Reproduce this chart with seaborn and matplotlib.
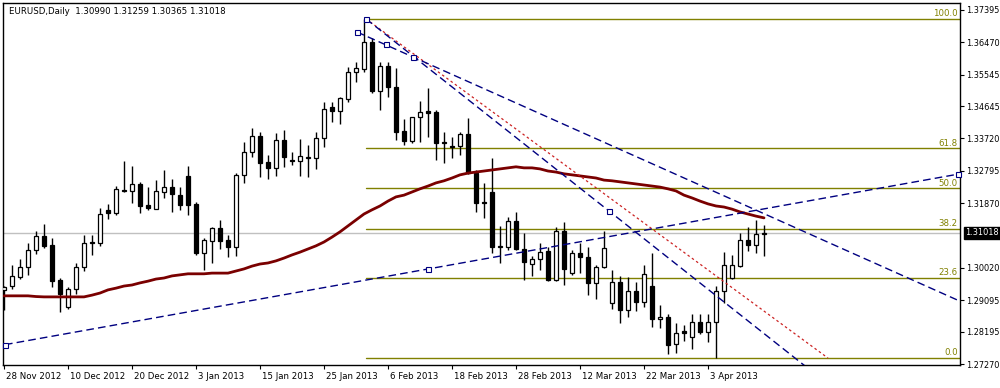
import matplotlib
matplotlib.use("Agg")
import matplotlib.pyplot as plt
import matplotlib.transforms as mtrans
import numpy as np
import pandas as pd
import seaborn as sns

# ---- data (EURUSD daily, bar index 0 = 28 Nov 2012) ----
opens = [1.2939, 1.2950, 1.2976, 1.3004, 1.3053, 1.3093, 1.3067, 1.2967, 1.2890, 1.2942,
         1.3004, 1.3076, 1.3073, 1.3168, 1.3159, 1.3225, 1.3222, 1.3242, 1.3182, 1.3170,
         1.3219, 1.3233, 1.3210, 1.3265, 1.3185, 1.3045, 1.3079, 1.3116, 1.3082, 1.3062,
         1.3268, 1.3333, 1.3379, 1.3305, 1.3288, 1.3368, 1.3311, 1.3308, 1.3316, 1.3316,
         1.3373, 1.3462, 1.3451, 1.3485, 1.3562, 1.3571, 1.3648, 1.3508, 1.3579, 1.3519,
         1.3393, 1.3365, 1.3434, 1.3451, 1.3448, 1.3362, 1.3351, 1.3351, 1.3385, 1.3273,
         1.3190, 1.3219, 1.3062, 1.3062, 1.3136, 1.3056, 1.3013, 1.3027, 1.3050, 1.2967,
         1.3107, 1.2987, 1.3045, 1.3033, 1.2959, 1.3005, 1.2902, 1.2962, 1.2882, 1.2935,
         1.2904, 1.2950, 1.2856, 1.2862, 1.2784, 1.2821, 1.2804, 1.2847, 1.2819, 1.2847,
         1.2936, 1.2973, 1.3007, 1.3082, 1.3067, 1.30990]
highs = [1.2950, 1.3010, 1.3027, 1.3073, 1.3107, 1.3128, 1.3087, 1.2973, 1.2947, 1.3016,
         1.3096, 1.3096, 1.3173, 1.3185, 1.3236, 1.3308, 1.3293, 1.3248, 1.3233, 1.3253,
         1.3282, 1.3256, 1.3233, 1.3293, 1.3190, 1.3087, 1.3119, 1.3139, 1.3096, 1.3273,
         1.3362, 1.3402, 1.3391, 1.3325, 1.3388, 1.3396, 1.3333, 1.3371, 1.3353, 1.3391,
         1.3476, 1.3476, 1.3491, 1.3577, 1.3591, 1.3714, 1.3659, 1.3591, 1.3591, 1.3574,
         1.3428, 1.3428, 1.3479, 1.3516, 1.3454, 1.3391, 1.3376, 1.3391, 1.3431, 1.3282,
         1.3245, 1.3316, 1.3122, 1.3148, 1.3162, 1.3102, 1.3036, 1.3073, 1.3062, 1.3119,
         1.3133, 1.3053, 1.3073, 1.3062, 1.3010, 1.3107, 1.2996, 1.2979, 1.2976, 1.2962,
         1.3010, 1.3045, 1.2896, 1.2870, 1.2844, 1.2839, 1.2870, 1.2870, 1.2870, 1.2950,
         1.3047, 1.3039, 1.3102, 1.3119, 1.3139, 1.31259]
lows = [1.2882, 1.2942, 1.2970, 1.2982, 1.3042, 1.3059, 1.2947, 1.2876, 1.2884, 1.2927,
        1.2993, 1.3039, 1.3065, 1.3142, 1.3153, 1.3219, 1.3188, 1.3159, 1.3168, 1.3170,
        1.3202, 1.3162, 1.3168, 1.3153, 1.3039, 1.2996, 1.3016, 1.3056, 1.3033, 1.3036,
        1.3245, 1.3319, 1.3262, 1.3256, 1.3265, 1.3291, 1.3296, 1.3265, 1.3262, 1.3285,
        1.3348, 1.3419, 1.3414, 1.3476, 1.3534, 1.3562, 1.3502, 1.3454, 1.3491, 1.3368,
        1.3353, 1.3359, 1.3362, 1.3376, 1.3311, 1.3302, 1.3316, 1.3325, 1.3271, 1.3162,
        1.3145, 1.3045, 1.3016, 1.3053, 1.3053, 1.2967, 1.2979, 1.2996, 1.2964, 1.2964,
        1.2953, 1.2982, 1.2987, 1.2924, 1.2913, 1.3002, 1.2884, 1.2844, 1.2862, 1.2879,
        1.2890, 1.2833, 1.2830, 1.2756, 1.2759, 1.2793, 1.2770, 1.2813, 1.2790, 1.2744,
        1.2902, 1.2970, 1.3005, 1.3050, 1.3045, 1.30365]
closes = [1.2947, 1.2979, 1.3005, 1.3053, 1.3093, 1.3065, 1.2964, 1.2927, 1.2942, 1.3004,
          1.3073, 1.3073, 1.3156, 1.3159, 1.3228, 1.3222, 1.3242, 1.3179, 1.3173, 1.3222,
          1.3233, 1.3213, 1.3182, 1.3182, 1.3045, 1.3082, 1.3116, 1.3079, 1.3062, 1.3268,
          1.3333, 1.3379, 1.3302, 1.3288, 1.3368, 1.3319, 1.3308, 1.3322, 1.3319, 1.3373,
          1.3456, 1.3451, 1.3488, 1.3562, 1.3574, 1.3648, 1.3508, 1.3579, 1.3519, 1.3391,
          1.3365, 1.3434, 1.3448, 1.3445, 1.3359, 1.3359, 1.3348, 1.3385, 1.3273, 1.3188,
          1.3188, 1.3062, 1.3065, 1.3136, 1.3056, 1.3019, 1.3027, 1.3047, 1.2967, 1.3107,
          1.2999, 1.3045, 1.3033, 1.2959, 1.3005, 1.3059, 1.2962, 1.2882, 1.2935, 1.2904,
          1.2985, 1.2856, 1.2862, 1.2781, 1.2816, 1.2816, 1.2847, 1.2819, 1.2847, 1.2936,
          1.3010, 1.3010, 1.3082, 1.3067, 1.3099, 1.31018]
ma50 = [1.2922, 1.2922, 1.2922, 1.2922, 1.2920, 1.2919, 1.2919, 1.2919, 1.2919, 1.2919,
        1.2919, 1.2924, 1.2930, 1.2939, 1.2944, 1.2950, 1.2953, 1.2959, 1.2964, 1.2970,
        1.2973, 1.2979, 1.2982, 1.2985, 1.2985, 1.2985, 1.2987, 1.2987, 1.2987, 1.2993,
        1.2999, 1.3007, 1.3013, 1.3016, 1.3022, 1.3030, 1.3039, 1.3047, 1.3056, 1.3065,
        1.3076, 1.3090, 1.3105, 1.3122, 1.3139, 1.3156, 1.3168, 1.3179, 1.3193, 1.3205,
        1.3210, 1.3219, 1.3228, 1.3236, 1.3245, 1.3251, 1.3259, 1.3268, 1.3273, 1.3276,
        1.3279, 1.3282, 1.3285, 1.3288, 1.3291, 1.3288, 1.3288, 1.3285, 1.3279, 1.3276,
        1.3271, 1.3268, 1.3265, 1.3262, 1.3259, 1.3253, 1.3251, 1.3248, 1.3245, 1.3242,
        1.3239, 1.3236, 1.3233, 1.3228, 1.3222, 1.3210, 1.3202, 1.3193, 1.3185, 1.3179,
        1.3176, 1.3170, 1.3162, 1.3156, 1.3150, 1.3145]

date_labels = ["28 Nov 2012", "10 Dec 2012", "20 Dec 2012", "3 Jan 2013", "15 Jan 2013",
               "25 Jan 2013", "6 Feb 2013", "18 Feb 2013", "28 Feb 2013", "12 Mar 2013",
               "22 Mar 2013", "3 Apr 2013"]
price_ticks = [1.37395, 1.36470, 1.35545, 1.34645, 1.33720, 1.32795, 1.31870,
               1.30020, 1.29095, 1.28195, 1.27270]
last_price = 1.31018

# Fibonacci retracement anchors (bar, price) and levels
fib_a = (45.25, 1.3714)
fib_b = (103.0, 1.2744)
fib_levels = [100.0, 61.8, 50.0, 38.2, 23.6, 0.0]

# trend lines: two anchor points each (bar, price)
trend_up = [(0.125, 1.27824), (53.0, 1.29988)]
trend_down1 = [(44.125, 1.36766), (51.125, 1.36051)]
trend_down2 = [(45.25, 1.3714), (75.625, 1.31646)]
extra_anchor = (47.75, 1.36423)

# ---- plotting ----
sns.set_style("white")
plt.rcParams["font.family"] = ["DejaVu Sans"]
FS = 6.2
FS_AX = 5.9

fig = plt.figure(figsize=(10, 3.88), dpi=100)
ax = fig.add_axes([3 / 1000, 23 / 388, 957 / 1000, 362 / 388])

df = pd.DataFrame({"o": opens, "h": highs, "l": lows, "c": closes, "ma": ma50})
df["bar"] = np.arange(len(df))
up = df["c"] >= df["o"]

ax.vlines(df["bar"], df["l"], df["h"], color="black", lw=1, zorder=3)
body_lo = np.minimum(df["o"], df["c"])
body_h = np.maximum((df["c"] - df["o"]).abs(), 0.00012)
ax.bar(df["bar"][up], body_h[up], bottom=body_lo[up], width=0.62,
       facecolor="white", edgecolor="black", lw=0.9, zorder=4)
ax.bar(df["bar"][~up], body_h[~up], bottom=body_lo[~up], width=0.62,
       facecolor="black", edgecolor="black", lw=0.9, zorder=4)

sns.lineplot(data=df, x="bar", y="ma", color="#7a0000", lw=2.0, ax=ax, zorder=5)

xmin, xmax = -0.125, 119.5
ymin, ymax = 1.27242, 1.37595

# current price line
ax.axhline(last_price, color="#c0c0c0", lw=1, zorder=1)

# fibonacci
fib_col = "#808000"
rng = fib_a[1] - fib_b[1]
for lv in fib_levels:
    p = fib_b[1] + rng * lv / 100.0
    ax.plot([fib_a[0], xmax], [p, p], color=fib_col, lw=1, zorder=2)
    ax.text(xmax - 0.3, p + 0.0002, f"{lv:.1f}", color=fib_col, fontsize=FS,
            ha="right", va="bottom", zorder=6)
ax.plot([fib_a[0], fib_b[0]], [fib_a[1], fib_b[1]], color="#cc2222", lw=0.9,
        dashes=(2, 2.2), zorder=6)

def ray(pts, **kw):
    (x0, y0), (x1, y1) = pts
    k = (y1 - y0) / (x1 - x0)
    ax.plot([x0, xmax], [y0, y0 + k * (xmax - x0)], **kw)

navy = "#000080"
ray(trend_up, color=navy, lw=1, dashes=(5.5, 3), zorder=6)
ray(trend_down1, color=navy, lw=1, dashes=(5.5, 3), zorder=6)
ray(trend_down2, color=navy, lw=1, dashes=(5.5, 3), zorder=6)

sq = [trend_up[0], trend_up[1], trend_down1[0], trend_down1[1], trend_down2[0],
      trend_down2[1], extra_anchor]
k_up = (trend_up[1][1] - trend_up[0][1]) / (trend_up[1][0] - trend_up[0][0])
sq.append((xmax - 0.2, trend_up[0][1] + k_up * (xmax - 0.2 - trend_up[0][0])))
ax.plot([s[0] for s in sq], [s[1] for s in sq], "s", ms=3.6, mfc="white",
        mec=navy, mew=0.8, zorder=7, clip_on=False)

ax.set_xlim(xmin, xmax)
ax.set_ylim(ymin, ymax)

# axes styling
for s in ax.spines.values():
    s.set_color("black")
    s.set_linewidth(1)
ax.yaxis.tick_right()
ax.set_yticks(price_ticks)
ax.set_yticklabels([f"{p:.5f}" for p in price_ticks])
ax.tick_params(axis="y", direction="out", length=3, width=0.8, pad=1.5,
               labelsize=FS_AX, colors="black", right=True, left=False)
ax.set_xticks(np.arange(0, 8 * len(date_labels), 8))
ax.set_xticklabels(date_labels, ha="left")
ax.tick_params(axis="x", direction="out", length=3, width=0.8, pad=2,
               labelsize=FS, colors="black", bottom=True)
off = mtrans.ScaledTranslation(2 / 100, 0, fig.dpi_scale_trans)
for lbl in ax.get_xticklabels():
    lbl.set_transform(lbl.get_transform() + off)
ax.set_xlabel("")
ax.set_ylabel("")

# last price tag
tr = mtrans.blended_transform_factory(ax.transAxes, ax.transData)
ax.text(1.0 + 5 / 957, last_price, f"{last_price:.5f}", transform=tr, color="white",
        fontsize=FS_AX, ha="left", va="center", zorder=10, clip_on=False,
        bbox=dict(boxstyle="square,pad=0.15", fc="black", ec="black"))

fig.text(9 / 1000, 1 - 12 / 388, "EURUSD,Daily  1.30990 1.31259 1.30365 1.31018",
         fontsize=FS, ha="left", va="center", color="black")

fig.savefig("out.png", dpi=100, facecolor="white")
